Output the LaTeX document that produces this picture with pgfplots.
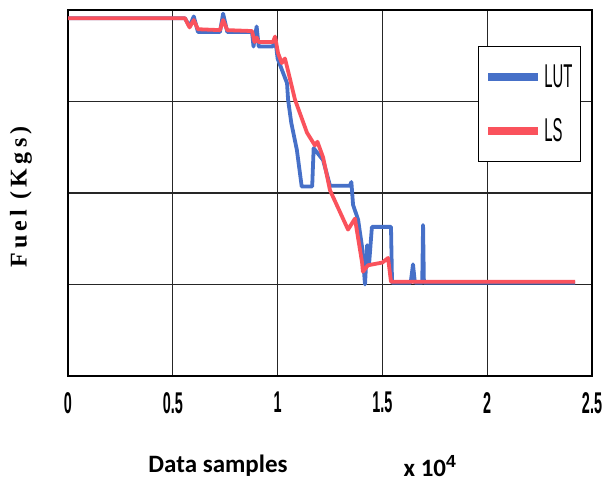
\documentclass[border=0pt]{standalone}
\usepackage{pgfplots}
\pgfplotsset{compat=1.18}
\usepackage{fontspec}
\setmainfont{Liberation Sans}
\newfontfamily\calib{Carlito}
\newfontfamily\serifb[LetterSpace=18]{Liberation Serif}
\definecolor{lutblue}{RGB}{70,112,200}
\definecolor{lsred}{RGB}{250,82,92}
\newcommand\tl[1]{\scalebox{0.48}[1]{\fontsize{30bp}{30bp}\selectfont\bfseries #1}}
\newcommand\lt[1]{\scalebox{0.45}[1]{\fontsize{33bp}{33bp}\selectfont #1}}
\begin{document}
\begin{tikzpicture}
\path[use as bounding box] (-68bp,-117bp) rectangle (537bp,376bp);
\begin{axis}[
  at={(0,0)}, anchor=south west,
  scale only axis, width=524bp, height=366bp,
  xmin=0, xmax=2.5, ymin=0, ymax=4,
  xtick={0,0.5,1,1.5,2,2.5},
  xticklabels={\tl{0},\tl{0.5},\tl{1},\tl{1.5},\tl{2},\tl{2.5}},
  xticklabel style={anchor=north, inner sep=0pt},
  xticklabel shift=16bp,
  ytick={0,1,2,3,4}, yticklabels={},
  major tick length=0pt,
  grid=major,
  major grid style={black!85, line width=1.2bp},
  axis line style={black, line width=1.6bp},
  legend style={at={(0.782,0.902)}, anchor=north west, draw=black, line width=1.2bp, fill=white,
    inner xsep=6bp, inner ysep=16bp, row sep=26bp, nodes={inner sep=2bp}},
  legend cell align=left,
  legend image code/.code={\draw[#1, line width=8bp] (0bp,0bp) -- (50bp,0bp);},
]
\addplot[lutblue, line width=3.8bp, line join=round] coordinates {
(0,3.91) (0.558,3.91) (0.58,3.82) (0.60,3.93) (0.62,3.76) (0.725,3.76) (0.74,3.96) (0.76,3.76)
(0.878,3.76) (0.885,3.60) (0.90,3.82) (0.91,3.60) (0.975,3.60) (0.99,3.66) (1.00,3.47)
(1.045,3.20) (1.05,3.02) (1.065,2.77) (1.092,2.47) (1.115,2.07) (1.165,2.07) (1.172,2.49)
(1.217,2.36) (1.25,2.08) (1.345,2.08) (1.352,2.12) (1.36,1.87) (1.384,1.71) (1.403,1.41)
(1.417,1.0) (1.427,1.43) (1.436,1.21) (1.45,1.63) (1.541,1.63) (1.546,1.02) (1.635,1.02)
(1.646,1.22) (1.655,1.02) (1.69,1.02) (1.694,1.65) (1.698,1.02) (2.419,1.02)
};
\addlegendentry{\lt{LUT}}
\addplot[lsred, line width=3.8bp, line join=round] coordinates {
(0,3.91) (0.558,3.91) (0.58,3.81) (0.60,3.89) (0.62,3.79) (0.725,3.78) (0.74,3.89) (0.76,3.78)
(0.878,3.77) (0.89,3.65) (0.90,3.70) (0.91,3.65) (0.978,3.65) (0.988,3.71) (1.002,3.53)
(1.02,3.42) (1.035,3.47) (1.045,3.38) (1.083,3.02) (1.14,2.66) (1.178,2.52) (1.19,2.56)
(1.217,2.39) (1.25,2.03) (1.336,1.60) (1.369,1.72) (1.403,1.24) (1.407,1.14) (1.431,1.21)
(1.50,1.24) (1.527,1.29) (1.541,1.03) (2.419,1.03)
};
\addlegendentry{\lt{LS}}
\end{axis}
\node[rotate=90, font={\fontsize{24bp}{24bp}\selectfont\serifb\bfseries}] at (-47bp,179bp) {Fuel (Kgs)};
\node[font={\fontsize{25bp}{25bp}\selectfont\calib\bfseries}] at (150bp,-90bp) {Data samples};
\node[font={\fontsize{25bp}{25bp}\selectfont\calib\bfseries}] at (362bp,-90bp) {x 10$^{\mathbf{4}}$};
\end{tikzpicture}
\end{document}
